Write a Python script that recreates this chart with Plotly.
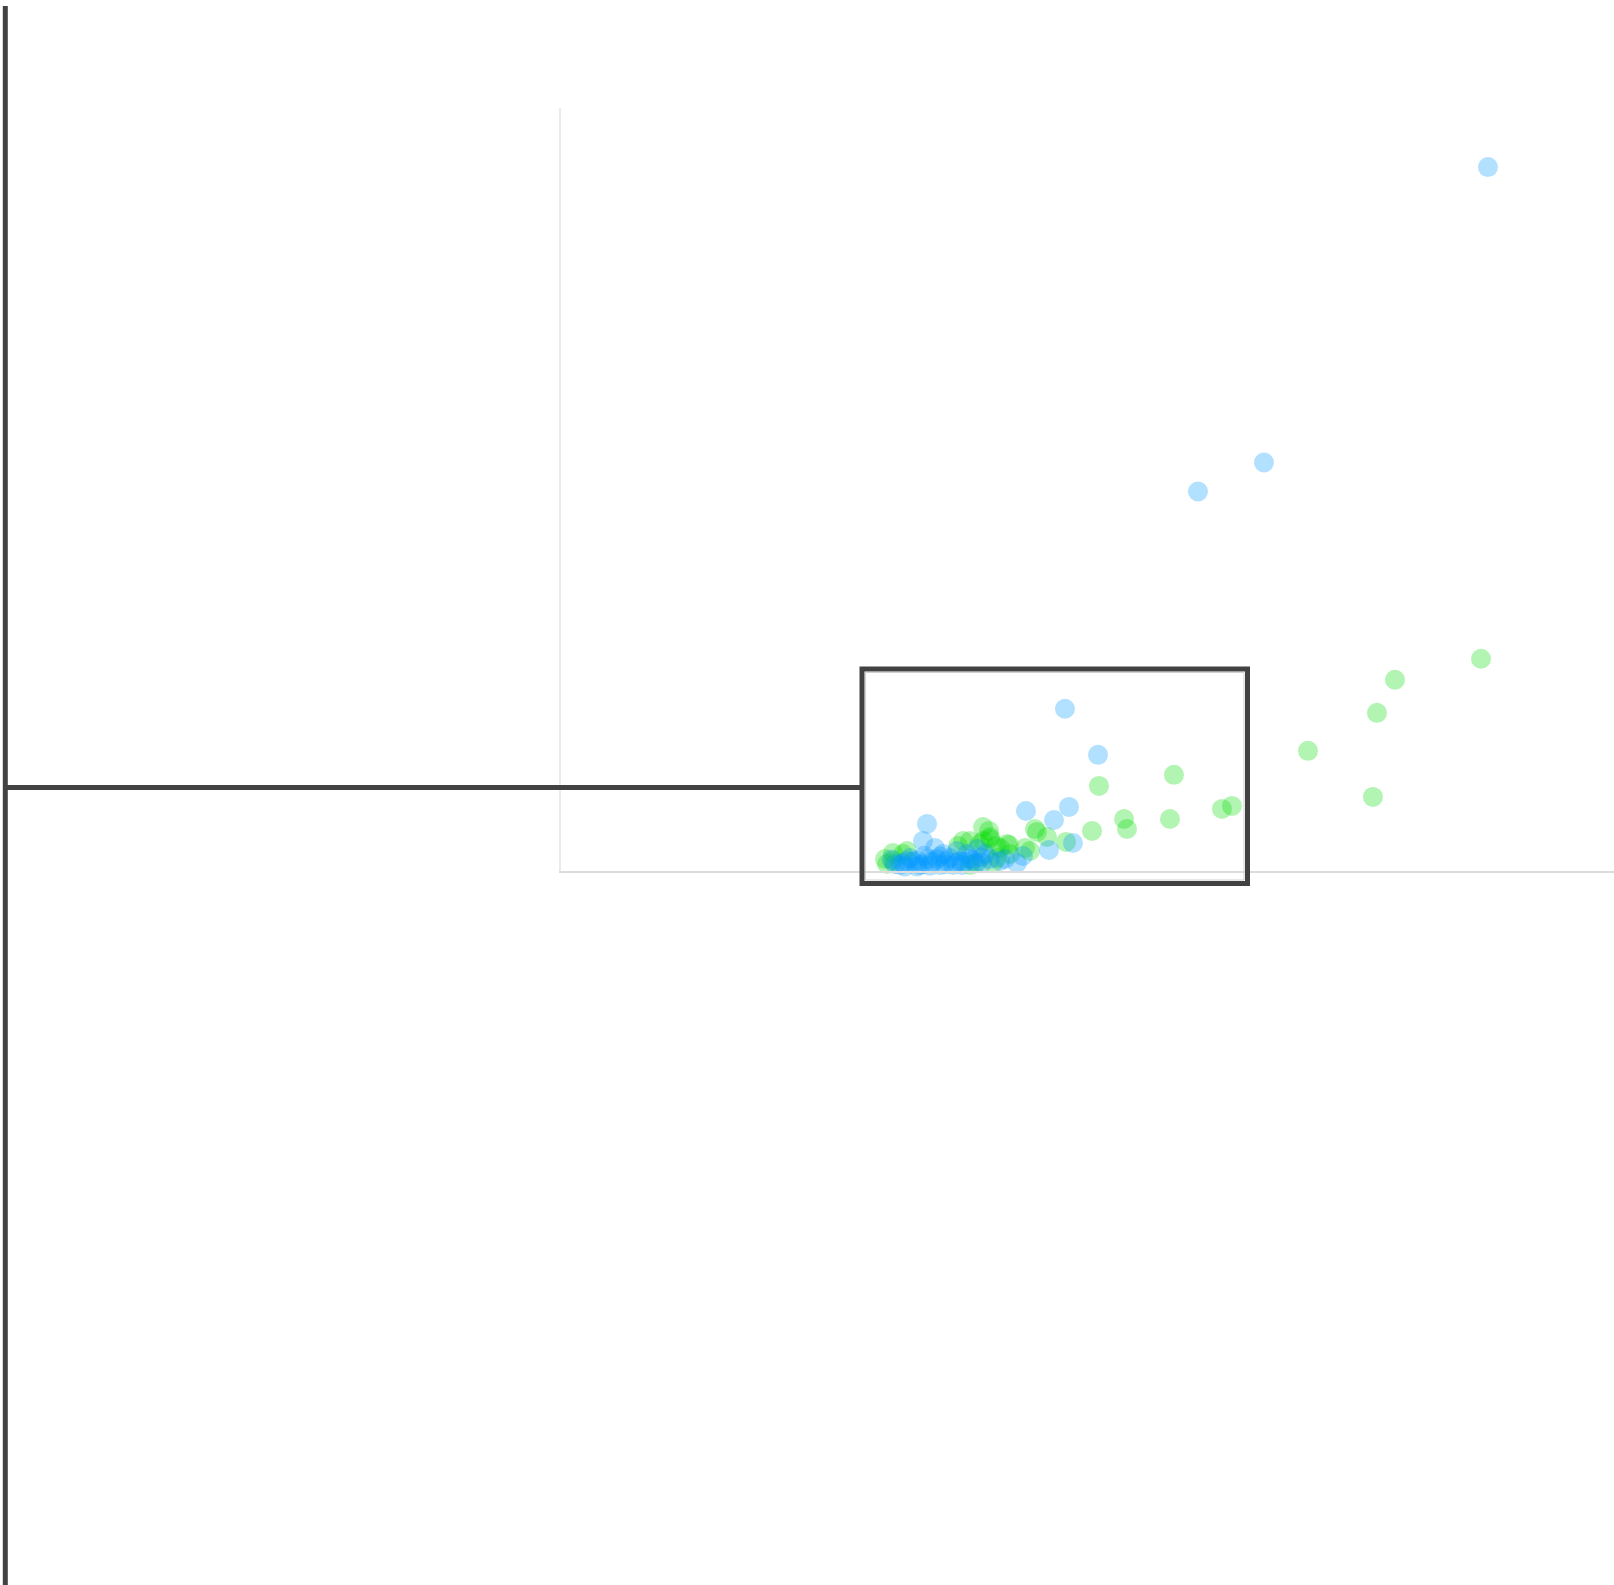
import plotly.graph_objects as go

# ---- data (arbitrary units, axes have no tick labels) ----
green_x = [87.37, 79.20, 77.49, 70.94, 77.11, 62.77, 63.72, 58.21, 51.09, 53.47,
           53.75, 57.83, 50.43, 45.20, 46.15, 47.96, 44.07, 42.36, 41.31, 40.65,
           40.74, 38.84, 45.01, 40.08, 39.79, 41.69, 31.53, 30.96, 32.48, 39.51,
           41.03, 31.53, 32.86, 38.18, 40.08, 38.84, 41.41, 42.64, 44.54, 37.70,
           30.77, 40.74, 42.55]
green_y = [27.82, 25.07, 20.73, 15.75, 9.71, 8.14, 8.53, 12.60, 11.15, 6.82,
           5.51, 6.82, 5.25, 5.12, 4.46, 3.81, 3.02, 3.54, 3.28, 5.25,
           4.46, 3.94, 5.51, 5.77, 3.54, 3.02, 2.36, 0.92, 2.23, 1.05,
           1.05, 1.31, 2.62, 3.94, 3.94, 0.80, 1.71, 2.23, 2.62, 3.28,
           1.57, 4.20, 3.40]

blue_x = [88.03, 66.76, 60.49, 47.86, 51.00, 44.16, 48.24, 46.82, 48.62, 46.34,
          43.30, 43.87, 34.76, 34.38, 35.52, 32.48, 33.43, 34.38, 35.71, 36.94,
          37.61, 38.56, 39.51, 40.27, 41.69, 35.04, 33.81, 37.23, 38.84, 36.28,
          33.14, 32.19, 38.08, 31.72, 32.67, 36.47, 39.32, 40.74, 42.17, 37.89,
          35.99, 34.09, 34.85, 31.40, 40.00, 32.90, 33.90, 35.30, 36.60, 37.50,
          38.30, 39.10, 39.90, 36.00, 34.50]
blue_y = [92.26, 53.54, 49.74, 21.26, 15.22, 7.87, 8.40, 6.69, 3.67, 2.76,
          1.05, 1.97, 6.17, 3.94, 3.02, 1.05, 1.25, 0.92, 1.57, 1.71,
          2.62, 2.23, 2.89, 2.23, 1.31, 0.70, 0.60, 0.80, 1.57, 2.23,
          1.71, 0.80, 0.80, 0.90, 0.60, 0.90, 1.00, 1.57, 1.57, 1.31,
          0.80, 0.80, 1.57, 1.50, 1.10, 1.30, 1.40, 1.20, 1.30, 1.10,
          1.20, 1.40, 1.80, 1.90, 2.00]

# ---- layout geometry (pixels) ----
W, H = 1614, 1585
L, T, B = 561, 108, 714
PW = W - L
PH = H - T - B
BOTTOM = T + PH


def px(xp):
    return (xp - L) / PW


def py(yp):
    return (BOTTOM - yp) / PH


DARK = "#424242"

fig = go.Figure()
fig.add_trace(go.Scatter(x=green_x, y=green_y, mode="markers", cliponaxis=False,
                         marker=dict(size=20, color="rgb(0,220,0)", opacity=0.3,
                                     line=dict(width=0)),
                         showlegend=False, hoverinfo="skip"))
fig.add_trace(go.Scatter(x=blue_x, y=blue_y, mode="markers", cliponaxis=False,
                         marker=dict(size=20, color="rgb(0,153,255)", opacity=0.3,
                                     line=dict(width=0)),
                         showlegend=False, hoverinfo="skip"))

shapes = [
    # long vertical line at the far left
    dict(type="line", xref="paper", yref="paper",
         x0=px(5.3), x1=px(5.3), y0=py(6), y1=py(1600),
         line=dict(color=DARK, width=5)),
    # horizontal connector
    dict(type="line", xref="paper", yref="paper",
         x0=px(5.3), x1=px(860), y0=py(787.5), y1=py(787.5),
         line=dict(color=DARK, width=5)),
    # zoom rectangle
    dict(type="rect", xref="paper", yref="paper",
         x0=px(862), x1=px(1247.5), y0=py(883.5), y1=py(669),
         line=dict(color=DARK, width=5), fillcolor="rgba(0,0,0,0)"),
    dict(type="rect", xref="paper", yref="paper",
         x0=px(865.5), x1=px(1244), y0=py(880), y1=py(672.5),
         line=dict(color="#d0d0d0", width=1), fillcolor="rgba(0,0,0,0)"),
]

fig.update_layout(
    width=W, height=H,
    margin=dict(l=L, r=0, t=T, b=B, pad=0),
    paper_bgcolor="white", plot_bgcolor="white",
    shapes=shapes,
    xaxis=dict(range=[0, 100], showgrid=False, zeroline=False, showticklabels=False,
               ticks="", showline=True, linecolor="#dcdcdc", linewidth=2),
    yaxis=dict(range=[0, 100], showgrid=False, zeroline=False, showticklabels=False,
               ticks="", showline=True, linecolor="#ebebeb", linewidth=2),
)

fig.write_html("out.html",
               config={"displayModeBar": False},
               post_script="document.body.style.margin='0';"
                           "document.body.style.overflow='hidden';")
